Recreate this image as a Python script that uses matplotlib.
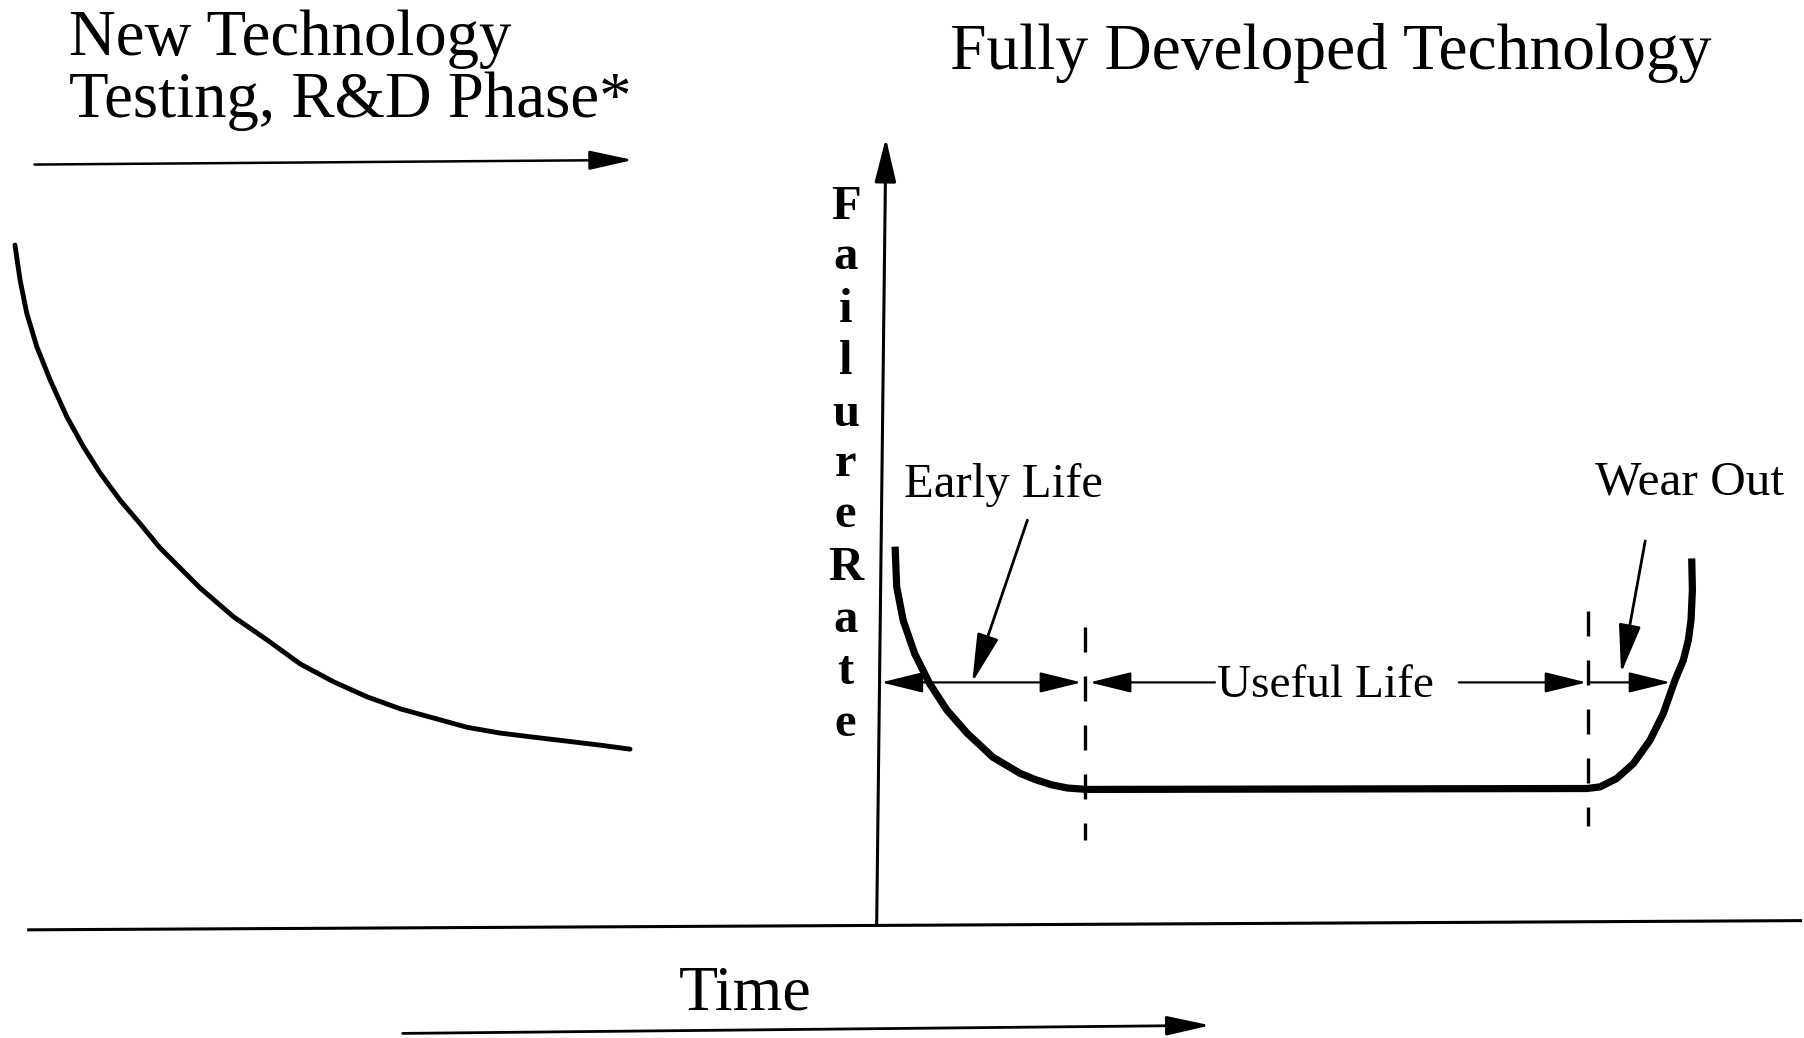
import matplotlib
matplotlib.use('Agg')
import matplotlib.pyplot as plt

plt.rcParams['font.family'] = ['Liberation Serif', 'DejaVu Serif']

# everything is read off the picture, in picture units (x right, y down)
# left curve: new technology, testing / R&D phase
rd_x = [13, 17.4, 23.2, 31.9, 43.5, 58, 72.4, 87, 104.3, 121.7, 139, 174,
        203, 232, 261, 290, 319, 348, 377, 406, 434.6, 463, 492.5, 521.5, 547.6]
rd_y = [213, 243, 272, 301, 330, 362, 388, 411, 434.6, 455, 476, 511,
        536, 556, 577, 592.5, 605.5, 616, 624, 632, 637, 640.5, 644, 647.5, 651]

# bathtub curve: fully developed technology
tub_x = [778, 779.4, 785, 795, 808, 823, 840.5, 863, 886.6, 900, 914, 928, 944.8,
         1379.1, 1390.7, 1405.2, 1419.7, 1434.2, 1445.7, 1455.9, 1463.1,
         1467.5, 1469.8, 1471, 1470.4]
tub_y = [475, 510, 539, 568, 594, 617, 637, 658, 672, 677.5, 682, 684.8, 686,
         685.2, 683.8, 676.5, 663.5, 643.2, 620, 591, 573.7,
         556.2, 538.9, 512.8, 485.3]

# phase boundaries (dashed)
bound_x = [943, 1380]
bound_top = [545, 531]
bound_bot = [730, 718]

# axes of the diagram
time_axis = [(25, 808), (1565, 800)]
rate_axis = [(762, 803), (770, 120)]

# arrows: (tail, tip)
top_arrow = [(30, 143), (550, 139)]
time_arrow = [(350, 898), (1052, 891)]
span_y = 593
early_span = [766, 940]
useful_left = [1056, 947]
useful_right = [1268, 1379]
wear_span = [1381, 1452]
early_ptr = [(893, 452), (845, 593)]
wear_ptr = [(1430, 470), (1409, 585)]

rate_letters = list('FailureRate')
rate_base = [190, 234, 280, 325, 370, 414, 458, 504, 549, 594, 640]

fig = plt.figure(figsize=(18.04, 10.38), dpi=100)
ax = fig.add_axes([0, 0, 1, 1])
ax.set_xlim(0, 1568)
ax.set_ylim(902, 0)
ax.axis('off')


def arrow(tail, tip, style='-|>', lw=1.7, hl=1.3, hw=0.32):
    ax.annotate('', xy=tip, xytext=tail,
                arrowprops=dict(arrowstyle='%s,head_length=%s,head_width=%s' % (style, hl, hw),
                                lw=lw, color='black', shrinkA=0, shrinkB=0,
                                mutation_scale=20))


# curves
ax.plot(rd_x, rd_y, color='black', lw=3.5, solid_capstyle='round', solid_joinstyle='round')
ax.plot(tub_x, tub_y, color='black', lw=5.2, solid_capstyle='butt', solid_joinstyle='round')

# axes
ax.plot([p[0] for p in time_axis], [p[1] for p in time_axis], color='black', lw=2.2)
arrow(rate_axis[0], rate_axis[1], lw=2.2, hl=1.35, hw=0.33)

# dashed boundaries
for bx, bt, bb in zip(bound_x, bound_top, bound_bot):
    ax.plot([bx, bx], [bt, bb], color='black', lw=2.4, linestyle=(0, (7.5, 7.2)))

# top and bottom arrows
arrow(top_arrow[0], top_arrow[1], lw=1.8, hl=1.35, hw=0.3)
arrow(time_arrow[0], time_arrow[1], lw=2.0, hl=1.35, hw=0.3)

# life spans
arrow((early_span[0], span_y), (early_span[1], span_y), style='<|-|>', lw=1.6)
arrow((useful_left[0], span_y), (useful_left[1], span_y), lw=1.6)
arrow((useful_right[0], span_y), (useful_right[1], span_y), lw=1.6)
arrow((wear_span[0], span_y), (wear_span[1], span_y), lw=1.6)
arrow(early_ptr[0], early_ptr[1], lw=2.0, hl=1.5, hw=0.34)
arrow(wear_ptr[0], wear_ptr[1], lw=2.0, hl=1.5, hw=0.34)

# text
ax.text(60, 48, 'New Technology', fontsize=46.6, ha='left', va='baseline')
ax.text(60, 102, 'Testing, R&D Phase*', fontsize=46.6, ha='left', va='baseline')
ax.text(826, 60, 'Fully Developed Technology', fontsize=47.2, ha='left', va='baseline')
ax.text(786, 432, 'Early Life', fontsize=35, ha='left', va='baseline')
ax.text(1386, 430, 'Wear Out', fontsize=35.5, ha='left', va='baseline')
ax.text(1058, 606, 'Useful Life', fontsize=34, ha='left', va='baseline',
        bbox=dict(facecolor='white', edgecolor='none', pad=1))
ax.text(590, 877, 'Time', fontsize=46, ha='left', va='baseline')
for ch, yb in zip(rate_letters, rate_base):
    ax.text(735, yb, ch, fontsize=35, ha='center', va='baseline', fontweight='bold')

fig.savefig('out.png', dpi=100, facecolor='white')
